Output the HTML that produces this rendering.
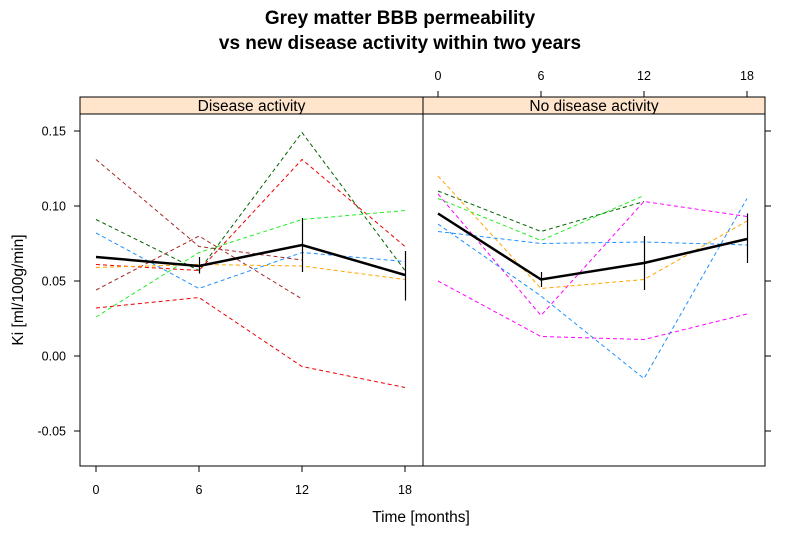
<!DOCTYPE html>
<html><head><meta charset="utf-8"><style>
body{margin:0;background:#fff;}
svg text{font-family:"Liberation Sans",Arial,sans-serif;}
</style></head><body>
<svg id="chart" width="803" height="538" viewBox="0 0 803 538">
<text x="400" y="24" text-anchor="middle" font-size="19" font-weight="bold">Grey matter BBB permeability</text>
<text x="400" y="49" text-anchor="middle" font-size="19" font-weight="bold">vs new disease activity within two years</text>
<text x="421" y="522" text-anchor="middle" font-size="15.5">Time [months]</text>
<text transform="translate(23,290) rotate(-90)" text-anchor="middle" font-size="15.5">Ki [ml/100g/min]</text>
<g id="plot"></g>
</svg>
<script>
const months=[0,6,12,18];
const yTicks=[-0.05,0,0.05,0.10,0.15];
const yTickLabels=["-0.05","0.00","0.05","0.10","0.15"];
const panelNames=["Disease activity","No disease activity"];
// left panel subjects
const dDarkgreen=[0.091,0.057,0.149,0.057];
const dRed1=[0.061,0.057,0.131,0.073];
const dLime=[0.026,0.069,0.091,0.097];
const dBlue=[0.082,0.045,0.069,0.063];
const dBrown1=[0.131,0.073,0.064];
const dBrown2=[0.044,0.080,0.038];
const dRed2=[0.032,0.039,-0.007,-0.021];
const dOrange=[0.059,0.061,0.060,0.051];
const dMean=[0.066,0.060,0.074,0.054];
const dErrLo=[null,0.055,0.056,0.037];
const dErrHi=[null,0.066,0.092,0.070];
// right panel subjects
const nDarkgreen=[0.110,0.083,0.103];
const nLime=[0.105,0.077,0.107];
const nMagenta1=[0.108,0.027,0.103,0.093];
const nMagenta2=[0.050,0.013,0.011,0.028];
const nOrange=[0.120,0.045,0.051,0.090];
const nBlue1=[0.083,0.075,0.076,0.074];
const nBlue2=[0.088,0.040,-0.015,0.105];
const nMean=[0.095,0.051,0.062,0.078];
const nErrLo=[null,0.046,0.044,0.062];
const nErrHi=[null,0.056,0.080,0.095];

const NS="http://www.w3.org/2000/svg";
const g=document.getElementById('plot');
function el(t,a,parent){const e=document.createElementNS(NS,t);for(const k in a)e.setAttribute(k,a[k]);(parent||g).appendChild(e);return e;}
const yS=v=>356-1500*v;
const panels=[{x0:80,x1:423,ox:96},{x0:423,x1:765,ox:438}];
const xS=(p,m)=>panels[p].ox+m*(103/6);
const topY=97,stripB=114,bot=466;

panels.forEach((p,i)=>{
  const s=el('rect',{x:p.x0,y:topY,width:p.x1-p.x0,height:stripB-topY,fill:'#FFE5CC',stroke:'#000'});
  
  
  const t=el('text',{x:(p.x0+p.x1)/2,y:111,'text-anchor':'middle','font-size':15.5});
  t.textContent=panelNames[i];
  
  
  const f=el('rect',{x:p.x0,y:stripB,width:p.x1-p.x0,height:bot-stripB,fill:'none',stroke:'#000'});
  
  
});
yTicks.forEach((v,i)=>{
  const y=yS(v);
  el('line',{x1:74,x2:80,y1:y,y2:y,stroke:'#000'});
  el('line',{x1:765,x2:771,y1:y,y2:y,stroke:'#000'});
  const t=el('text',{x:66,y:y+4.5,'text-anchor':'end','font-size':12.5});
  t.textContent=yTickLabels[i];
  
  
});
months.forEach(m=>{
  const xb=xS(0,m);
  el('line',{x1:xb,x2:xb,y1:bot,y2:bot+6,stroke:'#000'});
  const t=el('text',{x:xb,y:494,'text-anchor':'middle','font-size':12.5});
  t.textContent=m;
  
  
  const xt=xS(1,m);
  el('line',{x1:xt,x2:xt,y1:topY-6,y2:topY,stroke:'#000'});
  const t2=el('text',{x:xt,y:80,'text-anchor':'middle','font-size':12.5});
  t2.textContent=m;
  
  
});
function series(p,vals,color,name,mean){
  const pts=vals.map((v,i)=>xS(p,months[i])+','+yS(v)).join(' ');
  const l=el('polyline',{points:pts,fill:'none',stroke:color,'stroke-width':mean?2.5:1,'stroke-dasharray':mean?'none':'4,3'});
  
  
}
function errs(p,lo,hi,name){
  lo.forEach((v,i)=>{if(v===null)return;
    const x=Math.round(xS(p,months[i]))+0.5;
    const e=el('line',{x1:x,x2:x,y1:yS(v),y2:yS(hi[i]),stroke:'#000','stroke-width':1.2});
    
    
  });
}
series(0,dDarkgreen,'#006400','subject-line');
series(0,dRed1,'#EE0000','subject-line');
series(0,dLime,'#22EE22','subject-line');
series(0,dBlue,'#1E90FF','subject-line');
series(0,dBrown1,'#A52A2A','subject-line');
series(0,dBrown2,'#A52A2A','subject-line');
series(0,dRed2,'#EE0000','subject-line');
series(0,dOrange,'#FFA500','subject-line');
series(0,dMean,'#000','mean-line-disease',true);
errs(0,dErrLo,dErrHi,'error-bar');
series(1,nDarkgreen,'#006400','subject-line');
series(1,nLime,'#22EE22','subject-line');
series(1,nMagenta1,'#FF00FF','subject-line');
series(1,nMagenta2,'#FF00FF','subject-line');
series(1,nOrange,'#FFA500','subject-line');
series(1,nBlue1,'#1E90FF','subject-line');
series(1,nBlue2,'#1E90FF','subject-line');
series(1,nMean,'#000','mean-line-no-disease',true);
errs(1,nErrLo,nErrHi,'error-bar');
</script>
</body></html>
